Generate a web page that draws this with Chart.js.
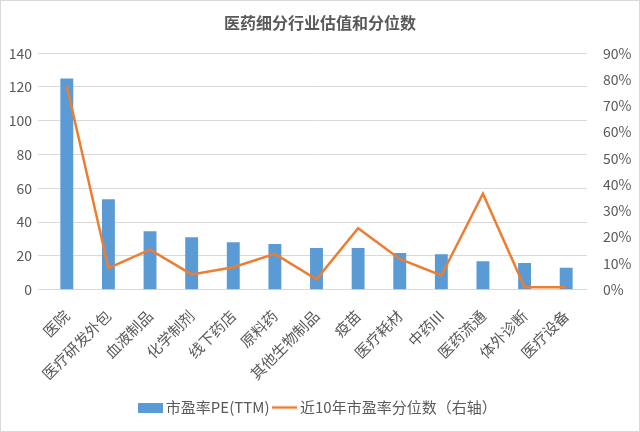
<!DOCTYPE html>
<html><head><meta charset="utf-8">
<script src="https://cdn.jsdelivr.net/npm/chart.js@4/dist/chart.umd.min.js"></script>
<style>
html,body{margin:0;padding:0;background:#fff;}
#wrap{position:absolute;left:0;top:0;width:638px;height:430px;border:1px solid #d9d9d9;}
</style></head>
<body>
<div id="wrap"><canvas id="c" width="638" height="430"></canvas></div>
<script>
const categories = ['医院','医疗研发外包','血液制品','化学制剂','线下药店','原料药','其他生物制品','疫苗','医疗耗材','中药III','医药流通','体外诊断','医疗设备'];
const peValues = [125, 53.5, 34.5, 31, 28, 27, 24.7, 24.7, 21.7, 21, 16.8, 15.8, 13];
const percentileValues = [77.5, 8.2, 15.2, 5.8, 8.5, 13.6, 3.9, 23.4, 11.7, 5.4, 36.5, 0.9, 0.9];
const leftTicks = [0,20,40,60,80,100,120,140];
const rightTicks = [0,10,20,30,40,50,60,70,80,90];
const seriesNames = ['市盈率PE(TTM)','近10年市盈率分位数（右轴）'];
const titleText = '医药细分行业估值和分位数';

const FONT = '"Noto Sans CJK SC", "Noto Sans", sans-serif';
const GRAY = '#595959';

function makeIcon(kind){
  const cv = document.createElement('canvas');
  cv.width = 25; cv.height = 10;
  const g = cv.getContext('2d');
  if(kind==='bar'){ g.fillStyle='#5B9BD5'; g.fillRect(0,0,25,10); }
  else { g.strokeStyle='#ED7D31'; g.lineWidth=2.5; g.beginPath(); g.moveTo(0,5); g.lineTo(25,5); g.stroke(); }
  return cv;
}

new Chart(document.getElementById('c'), {
  data: {
    labels: categories,
    datasets: [
      { type:'bar', label: seriesNames[0], data: peValues, backgroundColor:'#5B9BD5', yAxisID:'y',
        categoryPercentage:1, barPercentage:0.31, order:2, pointStyle: makeIcon('bar') },
      { type:'line', label: seriesNames[1], data: percentileValues, borderColor:'#ED7D31', backgroundColor:'#ED7D31',
        borderWidth:2.5, pointRadius:0, tension:0, yAxisID:'y1', order:1, pointStyle: makeIcon('line') }
    ]
  },
  options: {
    responsive:false, animation:false,
    layout:{ padding:{ left:8, right:8, top:6, bottom:6 } },
    plugins:{
      title:{ display:true, text:titleText, color:GRAY, font:{ family:FONT, size:16, weight:'bold' }, padding:{ top:6, bottom:21 } },
      legend:{ position:'bottom', labels:{ usePointStyle:true, color:GRAY, font:{ family:FONT, size:15 }, padding:8,
               sort:(a,b)=>a.datasetIndex-b.datasetIndex } },
      tooltip:{ enabled:false }
    },
    scales:{
      x:{ grid:{ display:false }, border:{ display:false },
          ticks:{ color:GRAY, font:{ family:FONT, size:15 }, minRotation:45, maxRotation:45, autoSkip:false, padding:9 } },
      y:{ position:'left', min:0, max:140, afterBuildTicks: a => { a.ticks = leftTicks.map(v=>({value:v})); },
          grid:{ color:'#d9d9d9' }, border:{ display:false },
          ticks:{ color:GRAY, font:{ family:FONT, size:14 }, padding:6 },
          afterFit: a => { a.width = 37; } },
      y1:{ position:'right', min:0, max:90, afterBuildTicks: a => { a.ticks = rightTicks.map(v=>({value:v})); },
          grid:{ display:false }, border:{ display:false },
          ticks:{ color:GRAY, font:{ family:FONT, size:14 }, padding:8, callback: v => v + '%' },
          afterFit: a => { a.width = 44; } }
    }
  }
});
</script>
</body></html>
